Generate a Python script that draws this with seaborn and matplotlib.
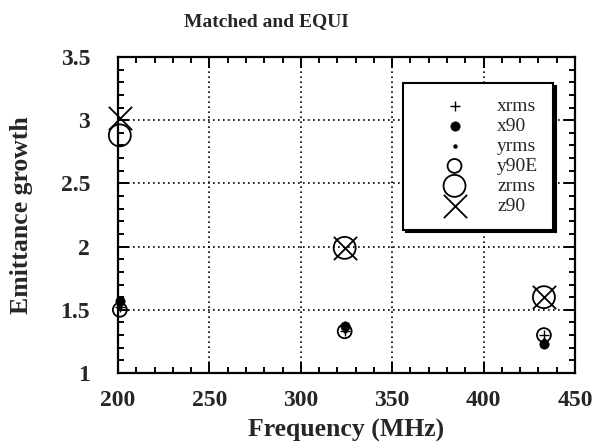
import matplotlib
matplotlib.use("Agg")
import matplotlib.pyplot as plt
from matplotlib.ticker import MultipleLocator
import seaborn as sns

# Emittance growth vs. RF frequency, matched beam with EQUI distribution
freq = [201, 324, 433]
xrms = [1.52, 1.33, 1.30]
x90 = [1.57, 1.37, 1.23]
yrms = [1.52, 1.33, 1.26]
y90E = [1.50, 1.33, 1.30]
zrms = [2.88, 1.99, 1.60]
z90 = [3.02, 1.99, 1.60]

x_ticks = [200, 250, 300, 350, 400, 450]
y_ticks = [1, 1.5, 2, 2.5, 3, 3.5]

sns.set_style("ticks")
plt.rcParams["font.family"] = ["Liberation Serif", "DejaVu Serif"]

fig = plt.figure(figsize=(5.99, 4.48), dpi=100)
ax = fig.add_axes([118 / 599, 1 - 373 / 448, (575 - 118) / 599, (373 - 57) / 448])

k = "black"
common = dict(ax=ax, clip_on=False)
sns.scatterplot(x=freq, y=xrms, marker="+", s=45, color=k, linewidth=1.0, label="xrms", zorder=5, **common)
sns.scatterplot(x=freq, y=x90, marker="o", s=45, color=k, edgecolor=k, linewidth=0.5, label="x90", zorder=4, **common)
sns.scatterplot(x=freq, y=yrms, marker="o", s=8, color=k, edgecolor=k, linewidth=0.3, label="yrms", zorder=5, **common)
sns.scatterplot(x=freq, y=y90E, marker="o", s=100, facecolor="none", edgecolor=k, linewidth=1.3, label="y90E", zorder=3, **common)
sns.scatterplot(x=freq, y=zrms, marker="o", s=250, facecolor="none", edgecolor=k, linewidth=1.3, label="zrms", zorder=3, **common)
sns.scatterplot(x=freq, y=z90, marker="x", s=280, color=k, linewidth=1.3, label="z90", zorder=3, **common)

ax.set_xlim(200, 450)
ax.set_ylim(1, 3.5)
ax.set_xticks(x_ticks)
ax.set_yticks(y_ticks)
ax.set_xticklabels([str(v) for v in x_ticks])
ax.set_yticklabels([f"{v:g}" for v in y_ticks])
ax.xaxis.set_minor_locator(MultipleLocator(10))
ax.yaxis.set_minor_locator(MultipleLocator(0.1))

ax.grid(True, which="major", color=k, linestyle=(0, (1, 2)), linewidth=1.2)
ax.set_axisbelow(True)
for sp in ax.spines.values():
    sp.set_visible(True)
    sp.set_linewidth(1.6)
    sp.set_color(k)

ax.tick_params(which="both", direction="in", top=True, right=True, color=k, width=1.4)
ax.tick_params(which="major", length=8, labelsize=17)
ax.tick_params(which="minor", length=4)
ax.tick_params(axis="y", which="major", pad=20)
ax.tick_params(axis="x", which="major", pad=12)
for lbl in ax.get_xticklabels() + ax.get_yticklabels():
    lbl.set_fontweight("bold")

ax.set_xlabel("Frequency (MHz)", fontsize=18.5, fontweight="bold", labelpad=6)
ax.set_ylabel("Emittance growth", fontsize=18.5, fontweight="bold", labelpad=20)
fig.text(266 / 599, 1 - 22 / 448, "Matched and EQUI", ha="center", va="center",
         fontsize=14, fontweight="bold")

leg = ax.legend(loc="upper left", bbox_to_anchor=(403 / 599, 1 - 83 / 448),
                bbox_transform=fig.transFigure, frameon=True, fancybox=False,
                shadow={"color": "black", "alpha": 1.0},
                fontsize=14, labelspacing=0.12, handletextpad=0.3,
                borderpad=0.75, handlelength=3.8, borderaxespad=0)
leg.get_frame().set_edgecolor(k)
leg.get_frame().set_linewidth(1.5)
leg.get_frame().set_facecolor("white")

fig.savefig("out.png", dpi=100)
